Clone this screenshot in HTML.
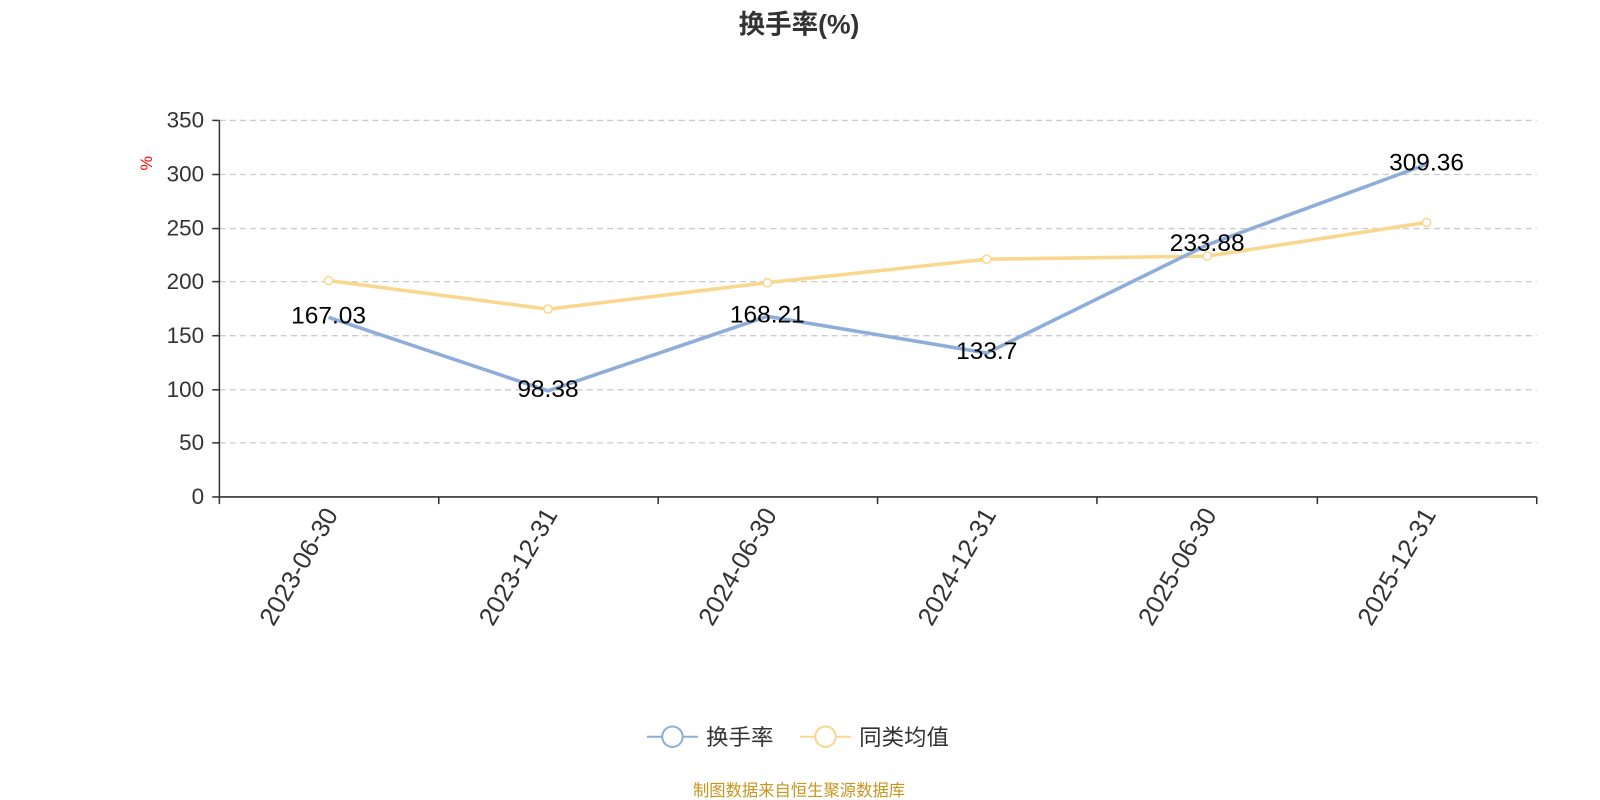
<!DOCTYPE html>
<html><head><meta charset="utf-8"><style>
body{margin:0;background:#fff;}
svg{display:block;}
svg text{font-family:"Liberation Sans","Noto Sans CJK SC",sans-serif;}
</style></head><body>
<svg width="1600" height="800" viewBox="0 0 1568 784" xmlns="http://www.w3.org/2000/svg">
<text x="783" y="33" text-anchor="middle" font-size="26" font-weight="bold" fill="#333">换手率(%)</text>
<g stroke="#ccc" stroke-dasharray="6,4" stroke-width="1.3">
<line x1="215" x2="1506" y1="118" y2="118"/><line x1="215" x2="1506" y1="171" y2="171"/>
<line x1="215" x2="1506" y1="224" y2="224"/><line x1="215" x2="1506" y1="276" y2="276"/>
<line x1="215" x2="1506" y1="329" y2="329"/><line x1="215" x2="1506" y1="382" y2="382"/>
<line x1="215" x2="1506" y1="434" y2="434"/>
</g>
<g stroke="#333" stroke-width="1.5">
<line x1="215" x2="215" y1="118" y2="487"/><line x1="215" x2="1506" y1="487" y2="487"/>
<line x1="208" x2="215" y1="118" y2="118"/><line x1="208" x2="215" y1="171" y2="171"/><line x1="208" x2="215" y1="224" y2="224"/><line x1="208" x2="215" y1="276" y2="276"/><line x1="208" x2="215" y1="329" y2="329"/><line x1="208" x2="215" y1="382" y2="382"/><line x1="208" x2="215" y1="434" y2="434"/><line x1="208" x2="215" y1="487" y2="487"/>
<line x1="215" x2="215" y1="487" y2="494"/><line x1="430" x2="430" y1="487" y2="494"/><line x1="645" x2="645" y1="487" y2="494"/><line x1="860" x2="860" y1="487" y2="494"/><line x1="1075" x2="1075" y1="487" y2="494"/><line x1="1291" x2="1291" y1="487" y2="494"/><line x1="1506" x2="1506" y1="487" y2="494"/>
</g>
<g font-size="22" fill="#333" text-anchor="end">
<text x="200" y="125">350</text><text x="200" y="178">300</text><text x="200" y="231">250</text><text x="200" y="283">200</text><text x="200" y="336">150</text><text x="200" y="389">100</text><text x="200" y="441">50</text><text x="200" y="494">0</text>
</g>
<text x="0" y="0" font-size="16" fill="red" transform="translate(149,160) rotate(-90)" text-anchor="middle">%</text>
<g font-size="25" fill="#333" text-anchor="end">
<text transform="translate(332,504) rotate(-60)">2023-06-30</text>
<text transform="translate(547,504) rotate(-60)">2023-12-31</text>
<text transform="translate(762,504) rotate(-60)">2024-06-30</text>
<text transform="translate(977,504) rotate(-60)">2024-12-31</text>
<text transform="translate(1193,504) rotate(-60)">2025-06-30</text>
<text transform="translate(1408,504) rotate(-60)">2025-12-31</text>
</g>
<polyline fill="none" stroke="#fad78e" stroke-width="3.5" points="322,275 537,303 752,277 967,254 1183,251 1398,218"/>
<g fill="#fff" stroke="#fad78e" stroke-width="1.5">
<circle cx="322" cy="275" r="4"/><circle cx="537" cy="303" r="4"/><circle cx="752" cy="277" r="4"/><circle cx="967" cy="254" r="4"/><circle cx="1183" cy="251" r="4"/><circle cx="1398" cy="218" r="4"/>
</g>
<polyline fill="none" stroke="#8daed9" stroke-width="3.5" points="322,311 537,383 752,310 967,346 1183,240 1398,161"/>
<g font-size="24" fill="#000" text-anchor="middle">
<text x="322" y="317">167.03</text><text x="537" y="389">98.38</text><text x="752" y="316">168.21</text><text x="967" y="352">133.7</text><text x="1183" y="246">233.88</text><text x="1398" y="167">309.36</text>
</g>
<line x1="634" x2="684" y1="722" y2="722" stroke="#8daed9" stroke-width="2"/>
<circle cx="659" cy="722" r="10" fill="#fff" stroke="#8daed9" stroke-width="2"/>
<text x="692" y="730" font-size="22" fill="#333">换手率</text>
<line x1="784" x2="834" y1="722" y2="722" stroke="#fad78e" stroke-width="2"/>
<circle cx="809" cy="722" r="10" fill="#fff" stroke="#fad78e" stroke-width="2"/>
<text x="842" y="730" font-size="22" fill="#333">同类均值</text>
<text x="783" y="780" font-size="16" fill="#c8951e" text-anchor="middle">制图数据来自恒生聚源数据库</text>
</svg>
</body></html>
